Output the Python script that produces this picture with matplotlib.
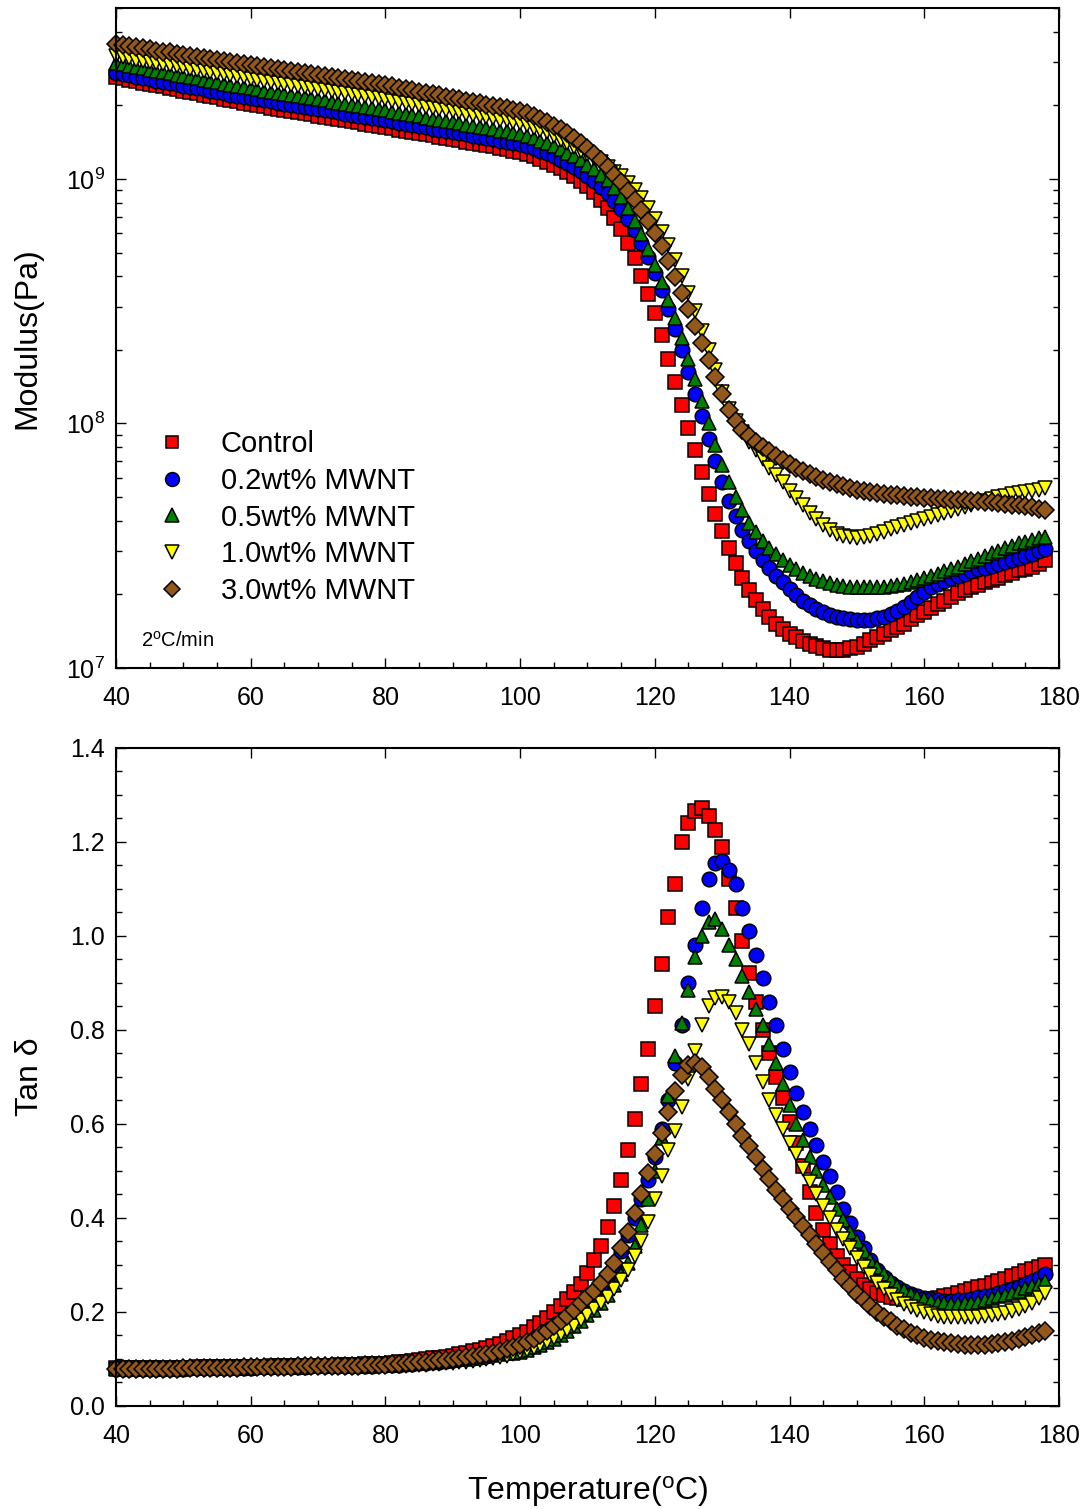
import numpy as np
import matplotlib
matplotlib.use('Agg')
import matplotlib.pyplot as plt
from matplotlib.ticker import MultipleLocator, FormatStrFormatter

plt.rcParams['font.family'] = ['Liberation Sans', 'DejaVu Sans']
plt.rcParams['mathtext.fontset'] = 'custom'
plt.rcParams['mathtext.rm'] = 'Liberation Sans'
plt.rcParams['mathtext.it'] = 'Liberation Sans:italic'
plt.rcParams['mathtext.default'] = 'regular'

# temperature (deg C), one reading per degree
temp = np.arange(40, 179)

# storage modulus, read as log10(Pa) from the log axis
logE_control = [
    9.416, 9.411, 9.405, 9.400, 9.394, 9.389, 9.383, 9.378, 9.372, 9.367,
    9.361, 9.356, 9.350, 9.345, 9.339, 9.334, 9.328, 9.323, 9.317, 9.312,
    9.306, 9.301, 9.297, 9.292, 9.287, 9.283, 9.278, 9.273, 9.268, 9.264,
    9.259, 9.254, 9.250, 9.245, 9.240, 9.236, 9.231, 9.226, 9.221, 9.217,
    9.212, 9.207, 9.202, 9.197, 9.192, 9.188, 9.183, 9.178, 9.173, 9.168,
    9.163, 9.158, 9.153, 9.148, 9.143, 9.138, 9.133, 9.128, 9.122, 9.116,
    9.109, 9.101, 9.092, 9.082, 9.071, 9.059, 9.045, 9.029, 9.012, 8.992,
    8.970, 8.945, 8.915, 8.880, 8.840, 8.795, 8.740, 8.675, 8.605, 8.530,
    8.450, 8.360, 8.265, 8.170, 8.075, 7.980, 7.890, 7.800, 7.710, 7.630,
    7.560, 7.490, 7.430, 7.370, 7.320, 7.280, 7.240, 7.210, 7.180, 7.160,
    7.140, 7.125, 7.110, 7.100, 7.090, 7.080, 7.075, 7.073, 7.075, 7.080,
    7.088, 7.100, 7.113, 7.127, 7.140, 7.155, 7.167, 7.182, 7.200, 7.215,
    7.230, 7.245, 7.260, 7.275, 7.290, 7.305, 7.318, 7.330, 7.340, 7.350,
    7.360, 7.370, 7.380, 7.390, 7.400, 7.407, 7.415, 7.427, 7.440]
logE_02 = [
    9.433, 9.428, 9.423, 9.418, 9.412, 9.407, 9.402, 9.397, 9.392, 9.387,
    9.382, 9.376, 9.371, 9.366, 9.361, 9.356, 9.350, 9.345, 9.340, 9.335,
    9.330, 9.326, 9.321, 9.317, 9.312, 9.308, 9.303, 9.299, 9.294, 9.290,
    9.285, 9.281, 9.276, 9.272, 9.267, 9.263, 9.258, 9.254, 9.249, 9.245,
    9.240, 9.235, 9.230, 9.226, 9.221, 9.216, 9.211, 9.206, 9.201, 9.197,
    9.192, 9.187, 9.182, 9.177, 9.172, 9.167, 9.162, 9.157, 9.152, 9.147,
    9.142, 9.134, 9.125, 9.115, 9.104, 9.092, 9.079, 9.065, 9.050, 9.033,
    9.014, 8.993, 8.969, 8.942, 8.911, 8.876, 8.836, 8.790, 8.738, 8.680,
    8.616, 8.546, 8.470, 8.388, 8.300, 8.210, 8.120, 8.030, 7.935, 7.845,
    7.760, 7.685, 7.620, 7.565, 7.520, 7.478, 7.440, 7.408, 7.378, 7.350,
    7.323, 7.297, 7.275, 7.256, 7.240, 7.228, 7.218, 7.210, 7.205, 7.201,
    7.198, 7.197, 7.198, 7.203, 7.210, 7.220, 7.235, 7.250, 7.270, 7.290,
    7.310, 7.330, 7.345, 7.357, 7.367, 7.377, 7.386, 7.395, 7.403, 7.411,
    7.419, 7.427, 7.435, 7.443, 7.451, 7.459, 7.468, 7.477, 7.486]
logE_05 = [
    9.473, 9.468, 9.463, 9.458, 9.452, 9.447, 9.442, 9.437, 9.432, 9.427,
    9.422, 9.416, 9.411, 9.406, 9.401, 9.396, 9.390, 9.385, 9.380, 9.375,
    9.370, 9.366, 9.361, 9.357, 9.352, 9.348, 9.343, 9.339, 9.334, 9.330,
    9.325, 9.321, 9.316, 9.312, 9.307, 9.303, 9.298, 9.294, 9.289, 9.285,
    9.280, 9.275, 9.270, 9.266, 9.261, 9.256, 9.251, 9.246, 9.242, 9.237,
    9.232, 9.227, 9.222, 9.218, 9.213, 9.208, 9.203, 9.198, 9.194, 9.189,
    9.184, 9.176, 9.167, 9.157, 9.146, 9.134, 9.121, 9.107, 9.092, 9.076,
    9.059, 9.040, 9.018, 8.994, 8.963, 8.925, 8.880, 8.830, 8.775, 8.715,
    8.650, 8.580, 8.505, 8.430, 8.350, 8.265, 8.180, 8.090, 8.000, 7.910,
    7.830, 7.760, 7.700, 7.645, 7.595, 7.555, 7.520, 7.490, 7.465, 7.440,
    7.420, 7.405, 7.390, 7.377, 7.365, 7.355, 7.347, 7.341, 7.336, 7.333,
    7.331, 7.330, 7.330, 7.331, 7.333, 7.336, 7.340, 7.345, 7.352, 7.360,
    7.368, 7.377, 7.386, 7.395, 7.405, 7.415, 7.425, 7.436, 7.447, 7.458,
    7.470, 7.480, 7.490, 7.500, 7.510, 7.517, 7.523, 7.530, 7.535]
logE_10 = [
    9.502, 9.497, 9.493, 9.488, 9.484, 9.479, 9.474, 9.470, 9.465, 9.461,
    9.456, 9.451, 9.447, 9.442, 9.438, 9.433, 9.428, 9.424, 9.419, 9.415,
    9.410, 9.406, 9.402, 9.397, 9.393, 9.389, 9.385, 9.380, 9.376, 9.372,
    9.368, 9.363, 9.359, 9.355, 9.351, 9.346, 9.342, 9.338, 9.334, 9.329,
    9.325, 9.320, 9.315, 9.311, 9.306, 9.301, 9.296, 9.291, 9.287, 9.282,
    9.277, 9.272, 9.267, 9.263, 9.258, 9.253, 9.248, 9.243, 9.239, 9.234,
    9.229, 9.220, 9.210, 9.200, 9.190, 9.175, 9.160, 9.145, 9.130, 9.115,
    9.100, 9.085, 9.070, 9.050, 9.030, 9.010, 8.985, 8.955, 8.920, 8.880,
    8.835, 8.785, 8.730, 8.670, 8.605, 8.535, 8.460, 8.380, 8.300, 8.220,
    8.130, 8.060, 8.010, 7.965, 7.925, 7.890, 7.855, 7.820, 7.790, 7.760,
    7.725, 7.695, 7.665, 7.635, 7.610, 7.585, 7.565, 7.550, 7.540, 7.535,
    7.533, 7.535, 7.540, 7.548, 7.558, 7.568, 7.577, 7.586, 7.595, 7.603,
    7.611, 7.618, 7.626, 7.634, 7.642, 7.650, 7.657, 7.665, 7.673, 7.681,
    7.690, 7.698, 7.705, 7.710, 7.715, 7.720, 7.724, 7.729, 7.735]
logE_30 = [
    9.551, 9.547, 9.542, 9.538, 9.534, 9.530, 9.525, 9.521, 9.517, 9.512,
    9.508, 9.504, 9.499, 9.495, 9.491, 9.487, 9.482, 9.478, 9.474, 9.469,
    9.465, 9.461, 9.457, 9.453, 9.449, 9.445, 9.441, 9.437, 9.433, 9.429,
    9.425, 9.420, 9.416, 9.412, 9.408, 9.404, 9.400, 9.396, 9.392, 9.388,
    9.384, 9.379, 9.373, 9.368, 9.363, 9.357, 9.352, 9.347, 9.342, 9.336,
    9.331, 9.326, 9.320, 9.315, 9.310, 9.304, 9.299, 9.294, 9.289, 9.283,
    9.278, 9.268, 9.257, 9.245, 9.232, 9.218, 9.203, 9.186, 9.168, 9.148,
    9.126, 9.102, 9.076, 9.048, 9.018, 8.986, 8.952, 8.915, 8.875, 8.830,
    8.780, 8.725, 8.665, 8.600, 8.535, 8.470, 8.400, 8.330, 8.260, 8.190,
    8.120, 8.055, 8.010, 7.975, 7.950, 7.926, 7.905, 7.886, 7.868, 7.851,
    7.835, 7.820, 7.806, 7.793, 7.781, 7.770, 7.760, 7.751, 7.743, 7.736,
    7.730, 7.725, 7.720, 7.716, 7.712, 7.709, 7.706, 7.703, 7.700, 7.698,
    7.696, 7.694, 7.692, 7.690, 7.689, 7.687, 7.686, 7.684, 7.682, 7.680,
    7.677, 7.674, 7.671, 7.668, 7.665, 7.661, 7.657, 7.651, 7.645]

# tan delta
tan_control = [
    0.080, 0.080, 0.080, 0.080, 0.080, 0.081, 0.081, 0.081, 0.081, 0.081,
    0.081, 0.081, 0.082, 0.082, 0.082, 0.082, 0.082, 0.082, 0.083, 0.083,
    0.083, 0.083, 0.083, 0.084, 0.084, 0.084, 0.084, 0.085, 0.085, 0.085,
    0.086, 0.086, 0.086, 0.087, 0.087, 0.088, 0.088, 0.089, 0.089, 0.090,
    0.090, 0.091, 0.093, 0.094, 0.096, 0.097, 0.099, 0.101, 0.103, 0.105,
    0.107, 0.110, 0.113, 0.116, 0.119, 0.123, 0.127, 0.132, 0.138, 0.144,
    0.151, 0.158, 0.167, 0.177, 0.188, 0.200, 0.213, 0.228, 0.243, 0.260,
    0.282, 0.310, 0.340, 0.380, 0.425, 0.480, 0.545, 0.610, 0.685, 0.760,
    0.850, 0.940, 1.040, 1.110, 1.200, 1.240, 1.265, 1.272, 1.255, 1.225,
    1.190, 1.120, 1.060, 0.990, 0.920, 0.860, 0.800, 0.750, 0.700, 0.655,
    0.605, 0.560, 0.510, 0.455, 0.410, 0.375, 0.345, 0.320, 0.300, 0.285,
    0.270, 0.258, 0.248, 0.241, 0.236, 0.232, 0.229, 0.227, 0.226, 0.226,
    0.227, 0.228, 0.230, 0.233, 0.236, 0.240, 0.244, 0.248, 0.252, 0.256,
    0.261, 0.266, 0.271, 0.276, 0.281, 0.286, 0.291, 0.296, 0.300]
tan_02 = [
    0.078, 0.078, 0.078, 0.078, 0.078, 0.079, 0.079, 0.079, 0.079, 0.079,
    0.079, 0.080, 0.080, 0.080, 0.080, 0.080, 0.081, 0.081, 0.081, 0.081,
    0.081, 0.082, 0.082, 0.082, 0.082, 0.083, 0.083, 0.083, 0.083, 0.084,
    0.084, 0.084, 0.085, 0.085, 0.085, 0.085, 0.086, 0.086, 0.086, 0.087,
    0.087, 0.088, 0.088, 0.089, 0.090, 0.091, 0.092, 0.093, 0.094, 0.095,
    0.097, 0.099, 0.101, 0.103, 0.105, 0.107, 0.110, 0.114, 0.118, 0.121,
    0.125, 0.131, 0.137, 0.143, 0.150, 0.158, 0.167, 0.178, 0.190, 0.204,
    0.219, 0.235, 0.254, 0.275, 0.300, 0.330, 0.363, 0.400, 0.440, 0.480,
    0.530, 0.590, 0.650, 0.730, 0.810, 0.900, 0.980, 1.060, 1.120, 1.155,
    1.160, 1.140, 1.110, 1.060, 1.010, 0.960, 0.910, 0.860, 0.810, 0.760,
    0.710, 0.665, 0.625, 0.590, 0.555, 0.520, 0.490, 0.455, 0.420, 0.390,
    0.360, 0.335, 0.310, 0.290, 0.275, 0.262, 0.253, 0.245, 0.239, 0.234,
    0.230, 0.227, 0.225, 0.224, 0.224, 0.225, 0.226, 0.228, 0.231, 0.234,
    0.237, 0.241, 0.245, 0.249, 0.254, 0.259, 0.265, 0.272, 0.280]
tan_05 = [
    0.078, 0.078, 0.078, 0.078, 0.078, 0.079, 0.079, 0.079, 0.079, 0.079,
    0.079, 0.080, 0.080, 0.080, 0.080, 0.080, 0.081, 0.081, 0.081, 0.081,
    0.081, 0.082, 0.082, 0.082, 0.082, 0.083, 0.083, 0.083, 0.083, 0.084,
    0.084, 0.084, 0.085, 0.085, 0.085, 0.085, 0.086, 0.086, 0.086, 0.087,
    0.087, 0.088, 0.089, 0.090, 0.091, 0.092, 0.093, 0.094, 0.095, 0.096,
    0.097, 0.099, 0.100, 0.102, 0.104, 0.106, 0.108, 0.110, 0.112, 0.113,
    0.115, 0.120, 0.125, 0.130, 0.136, 0.143, 0.151, 0.160, 0.170, 0.181,
    0.193, 0.205, 0.220, 0.237, 0.257, 0.280, 0.305, 0.340, 0.385, 0.440,
    0.500, 0.570, 0.660, 0.745, 0.815, 0.885, 0.955, 1.000, 1.030, 1.035,
    1.015, 0.980, 0.950, 0.915, 0.880, 0.845, 0.810, 0.770, 0.730, 0.685,
    0.640, 0.600, 0.565, 0.530, 0.500, 0.470, 0.445, 0.420, 0.395, 0.370,
    0.350, 0.330, 0.310, 0.295, 0.280, 0.267, 0.256, 0.247, 0.239, 0.232,
    0.227, 0.223, 0.220, 0.218, 0.217, 0.217, 0.218, 0.220, 0.222, 0.225,
    0.229, 0.233, 0.237, 0.241, 0.245, 0.250, 0.255, 0.260, 0.265]
tan_10 = [
    0.077, 0.077, 0.077, 0.077, 0.077, 0.078, 0.078, 0.078, 0.078, 0.078,
    0.078, 0.079, 0.079, 0.079, 0.079, 0.079, 0.080, 0.080, 0.080, 0.080,
    0.080, 0.081, 0.081, 0.081, 0.081, 0.082, 0.082, 0.082, 0.082, 0.082,
    0.083, 0.083, 0.083, 0.083, 0.084, 0.084, 0.084, 0.084, 0.085, 0.085,
    0.085, 0.085, 0.086, 0.086, 0.087, 0.088, 0.088, 0.089, 0.090, 0.091,
    0.092, 0.093, 0.094, 0.095, 0.097, 0.099, 0.101, 0.104, 0.107, 0.111,
    0.115, 0.119, 0.124, 0.130, 0.137, 0.144, 0.152, 0.161, 0.171, 0.182,
    0.194, 0.206, 0.218, 0.232, 0.248, 0.267, 0.290, 0.318, 0.350, 0.392,
    0.440, 0.490, 0.545, 0.585, 0.635, 0.695, 0.755, 0.810, 0.850, 0.868,
    0.870, 0.860, 0.835, 0.800, 0.770, 0.730, 0.690, 0.650, 0.620, 0.590,
    0.560, 0.535, 0.505, 0.477, 0.450, 0.425, 0.400, 0.375, 0.355, 0.335,
    0.315, 0.295, 0.278, 0.262, 0.248, 0.236, 0.226, 0.217, 0.210, 0.204,
    0.199, 0.195, 0.192, 0.190, 0.189, 0.189, 0.189, 0.189, 0.190, 0.191,
    0.193, 0.195, 0.198, 0.202, 0.207, 0.213, 0.220, 0.229, 0.240]
tan_30 = [
    0.078, 0.078, 0.078, 0.078, 0.078, 0.079, 0.079, 0.079, 0.079, 0.079,
    0.080, 0.080, 0.080, 0.080, 0.080, 0.081, 0.081, 0.081, 0.081, 0.082,
    0.082, 0.082, 0.082, 0.083, 0.083, 0.083, 0.083, 0.084, 0.084, 0.084,
    0.085, 0.085, 0.085, 0.085, 0.086, 0.086, 0.086, 0.087, 0.087, 0.087,
    0.088, 0.089, 0.090, 0.091, 0.092, 0.093, 0.094, 0.095, 0.097, 0.098,
    0.100, 0.102, 0.104, 0.106, 0.108, 0.110, 0.113, 0.117, 0.121, 0.126,
    0.130, 0.136, 0.143, 0.151, 0.160, 0.170, 0.180, 0.192, 0.205, 0.218,
    0.232, 0.245, 0.262, 0.280, 0.305, 0.335, 0.370, 0.410, 0.450, 0.495,
    0.535, 0.580, 0.625, 0.670, 0.705, 0.725, 0.730, 0.720, 0.700, 0.675,
    0.650, 0.625, 0.600, 0.575, 0.552, 0.530, 0.505, 0.482, 0.460, 0.440,
    0.420, 0.402, 0.383, 0.364, 0.345, 0.326, 0.307, 0.289, 0.271, 0.255,
    0.239, 0.225, 0.212, 0.200, 0.190, 0.180, 0.171, 0.163, 0.156, 0.150,
    0.145, 0.141, 0.138, 0.135, 0.133, 0.131, 0.130, 0.129, 0.129, 0.130,
    0.131, 0.133, 0.135, 0.138, 0.142, 0.146, 0.150, 0.155, 0.160]

labels = ['Control', '0.2wt% MWNT', '0.5wt% MWNT', '1.0wt% MWNT', '3.0wt% MWNT']
colors = ['#ff0000', '#0000ff', '#008000', '#ffff00', '#93581c']
markers = ['s', 'o', '^', 'v', 'D']
sizes = [9.5, 10.5, 10.5, 10.5, 9.0]

moduli = [logE_control, logE_02, logE_05, logE_10, logE_30]
tans = [tan_control, tan_02, tan_05, tan_10, tan_30]


def style_axis(ax):
    for s in ax.spines.values():
        s.set_linewidth(1.5)
    ax.set_xlim(40, 180)
    ax.xaxis.set_major_locator(MultipleLocator(20))
    ax.xaxis.set_minor_locator(MultipleLocator(5))
    ax.tick_params(which='both', direction='in', top=True, right=True,
                   labelsize=18, width=1.0)
    ax.tick_params(which='major', length=7)
    ax.tick_params(which='minor', length=4.3)
    ax.tick_params(axis='x', which='minor', top=False)
    ax.tick_params(axis='x', pad=13)
    ax.tick_params(axis='y', pad=8)


fig = plt.figure(figsize=(10.9, 15.09), dpi=100)
ax1 = fig.add_axes([0.1064, 0.5573, 0.8651, 0.4374])
ax2 = fig.add_axes([0.1064, 0.0683, 0.8651, 0.4361])

for i in range(5):
    ax1.plot(temp, 10 ** np.array(moduli[i]), linestyle='none', marker=markers[i],
             ms=sizes[i], mfc=colors[i], mec='black', mew=1.1, clip_on=False,
             label=labels[i])
    ax2.plot(temp, tans[i], linestyle='none', marker=markers[i],
             ms=sizes[i], mfc=colors[i], mec='black', mew=1.1, clip_on=False)

ax1.set_yscale('log')
ax1.set_ylim(1e7, 5e9)
style_axis(ax1)
ax1.set_ylabel('Modulus(Pa)', fontsize=23)
ax1.yaxis.set_label_coords(-0.078, 0.5)
ax1.legend(loc='upper left', bbox_to_anchor=(0.032, 0.378), frameon=False,
           fontsize=21, handlelength=1.0, handletextpad=1.15, labelspacing=0.3,
           borderaxespad=0, markerscale=0.95)
ax1.text(0.0265, 0.041, r'2$^{o}$C/min', transform=ax1.transAxes,
         fontsize=14.5, ha='left', va='center')

ax2.set_ylim(0, 1.4)
ax2.yaxis.set_major_locator(MultipleLocator(0.2))
ax2.yaxis.set_minor_locator(MultipleLocator(0.05))
ax2.yaxis.set_major_formatter(FormatStrFormatter('%.1f'))
style_axis(ax2)
ax2.set_ylabel('Tan δ', fontsize=23)
ax2.yaxis.set_label_coords(-0.075, 0.5)
ax2.set_xlabel(r'Temperature($^{o}$C)', fontsize=23)
ax2.xaxis.set_label_coords(0.5, -0.103)

fig.savefig('out.png', dpi=100)
